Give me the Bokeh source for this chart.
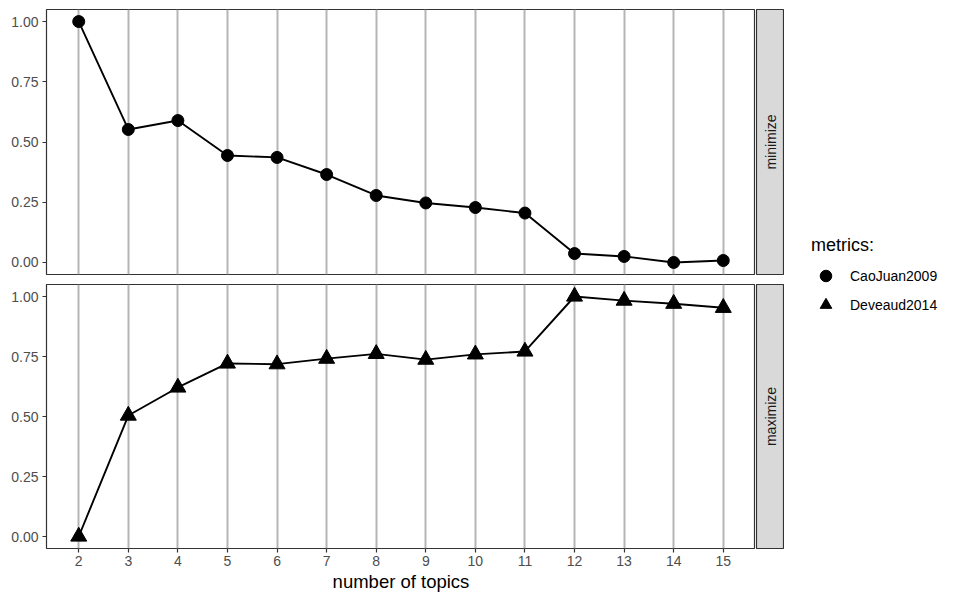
import math
from bokeh.plotting import figure
from bokeh.layouts import row, column
from bokeh.models import FixedTicker, NumeralTickFormatter, Legend, LegendItem, Range1d, ColumnDataSource
from bokeh.core.properties import value
from bokeh.embed import file_html
from bokeh.resources import INLINE

# ---- data ----
topics = [2, 3, 4, 5, 6, 7, 8, 9, 10, 11, 12, 13, 14, 15]
caojuan2009 = [1.000, 0.552, 0.589, 0.444, 0.436, 0.365, 0.278, 0.247, 0.228, 0.205, 0.037, 0.025, 0.000, 0.008]
deveaud2014 = [0.000, 0.504, 0.621, 0.721, 0.718, 0.741, 0.761, 0.737, 0.759, 0.771, 1.000, 0.983, 0.970, 0.953]
y_ticks = [0.0, 0.25, 0.5, 0.75, 1.0]
facet_labels = ["minimize", "maximize"]
series_names = ["CaoJuan2009", "Deveaud2014"]
legend_title = "metrics:"
x_title = "number of topics"

FONT = "Liberation Sans"
GRID = "#B5B5B5"
DARK = "#333333"
TICKTXT = "#4D4D4D"


def panel(frame_h, top, bottom, show_x):
    p = figure(frame_width=709, frame_height=frame_h, output_backend="svg",
               toolbar_location=None, x_range=Range1d(1.35, 15.65),
               y_range=Range1d(-0.05, 1.05))
    p.min_border = 0
    p.min_border_left = 46
    p.min_border_top = top
    p.min_border_bottom = bottom
    p.min_border_right = 0
    p.outline_line_color = DARK
    p.outline_line_width = 1.2
    p.background_fill_color = "white"
    p.border_fill_color = "white"
    p.xaxis.ticker = FixedTicker(ticks=topics)
    p.xgrid.ticker = FixedTicker(ticks=topics)
    p.xgrid.grid_line_color = GRID
    p.xgrid.grid_line_width = 2
    p.ygrid.grid_line_color = None
    p.yaxis.ticker = FixedTicker(ticks=y_ticks)
    p.yaxis.formatter = NumeralTickFormatter(format="0.00")
    for ax in p.axis:
        ax.axis_line_color = None
        ax.major_tick_line_color = DARK
        ax.major_tick_line_width = 1.2
        ax.major_tick_out = 4
        ax.major_tick_in = 0
        ax.minor_tick_line_color = None
        ax.major_label_text_font = FONT
        ax.major_label_text_font_size = "14px"
        ax.major_label_text_color = TICKTXT
        ax.major_label_standoff = 4
    if show_x:
        p.xaxis.axis_label = x_title
        p.xaxis.axis_label_text_font = FONT
        p.xaxis.axis_label_text_font_size = "18.5px"
        p.xaxis.axis_label_text_font_style = "normal"
        p.xaxis.axis_label_text_color = "black"
        p.xaxis.axis_label_standoff = 2
        p.xaxis.major_label_standoff = 3
    else:
        p.xaxis.visible = False
    return p


def strip(frame_h, top, bottom, label):
    s = figure(frame_width=28, frame_height=frame_h, output_backend="svg",
               toolbar_location=None, x_range=Range1d(0, 1), y_range=Range1d(0, 1),
               x_axis_type=None, y_axis_type=None)
    s.min_border = 0
    s.min_border_left = 1
    s.min_border_top = top
    s.min_border_bottom = bottom
    s.background_fill_color = "#D9D9D9"
    s.border_fill_color = "white"
    s.outline_line_color = DARK
    s.outline_line_width = 1.2
    s.xgrid.grid_line_color = None
    s.ygrid.grid_line_color = None
    s.text(x=[0.5], y=[0.5], text=[label], angle=math.pi / 2,
           text_align="center", text_baseline="middle",
           text_font=value(FONT), text_font_size="14px", text_color="#1A1A1A")
    return s


p_top = panel(265, 9, 10, False)
p_bot = panel(264, 0, 52, True)

src_top = ColumnDataSource(dict(x=topics, y=caojuan2009))
src_bot = ColumnDataSource(dict(x=topics, y=deveaud2014))
p_top.line("x", "y", source=src_top, line_color="black", line_width=1.9)
p_top.scatter("x", "y", source=src_top, marker="circle", size=12,
              fill_color="black", line_color="black")
p_bot.line("x", "y", source=src_bot, line_color="black", line_width=1.9)
p_bot.scatter("x", "y", source=src_bot, marker="triangle", size=16,
              fill_color="black", line_color="black")

s_top = strip(265, 9, 10, facet_labels[0])
s_bot = strip(264, 0, 52, facet_labels[1])

# legend figure: renderers share the data sources but the range keeps the points off view
lg = figure(width=176, height=600, output_backend="svg", toolbar_location=None,
            x_axis_type=None, y_axis_type=None, x_range=Range1d(-1, 0), y_range=Range1d(-1, 0))
lg.min_border = 0
lg.outline_line_color = None
lg.xgrid.grid_line_color = None
lg.ygrid.grid_line_color = None
r1 = lg.scatter("x", "y", source=src_top, marker="circle", size=12,
                fill_color="black", line_color="black")
r2 = lg.scatter("x", "y", source=src_bot, marker="triangle", size=16,
                fill_color="black", line_color="black")
legend = Legend(items=[LegendItem(label=series_names[0], renderers=[r1]),
                       LegendItem(label=series_names[1], renderers=[r2])],
                location=(27, 281), title=legend_title)
legend.title_text_font = FONT
legend.title_text_font_size = "18px"
legend.title_text_font_style = "normal"
legend.title_text_color = "black"
legend.title_standoff = 5
legend.label_text_font = FONT
legend.label_text_font_size = "14px"
legend.label_text_color = "black"
legend.glyph_width = 29
legend.glyph_height = 29
legend.label_height = 29
legend.label_standoff = 10
legend.spacing = 0
legend.padding = 0
legend.margin = 0
legend.border_line_color = None
legend.background_fill_color = None
lg.add_layout(legend)

layout = row(column(p_top, p_bot), column(s_top, s_bot), lg)
open("out.html", "w").write(file_html(layout, INLINE))
